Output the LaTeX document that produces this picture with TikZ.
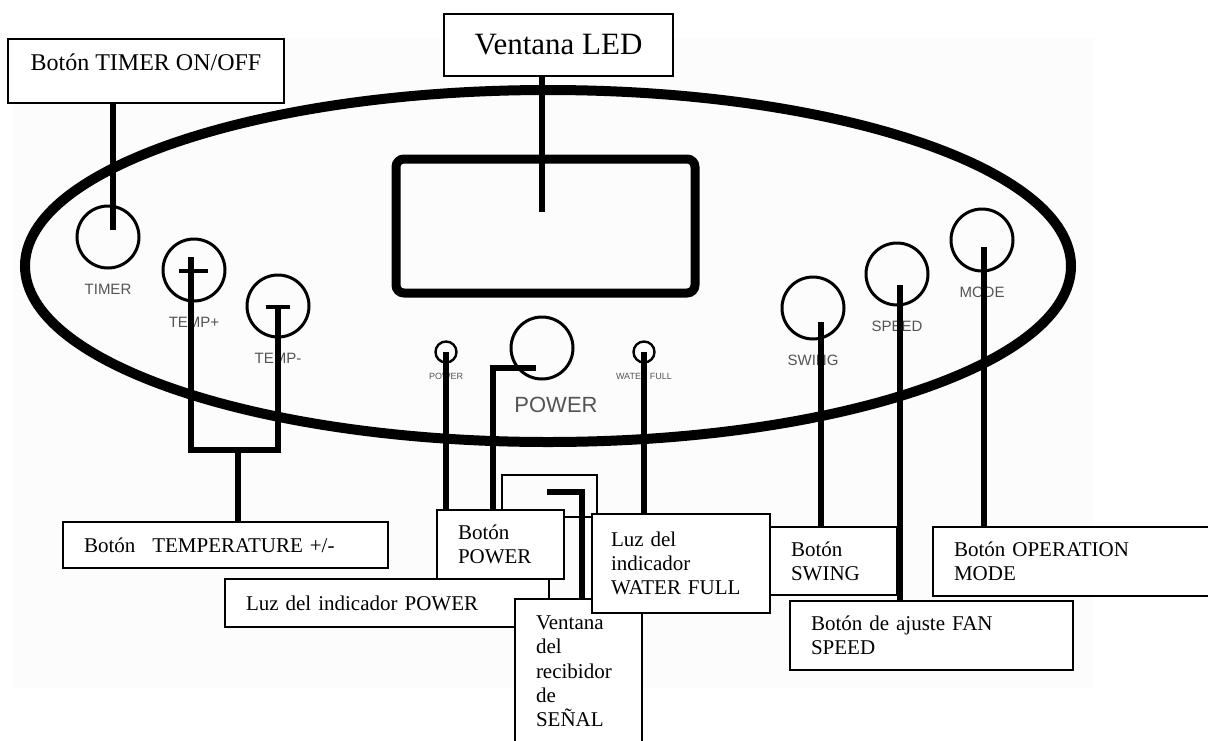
\documentclass[tikz,border=0pt]{standalone}
\usepackage{fontspec}
\setmainfont{Liberation Serif}
\newfontfamily\panelfont{Liberation Sans}
\usepackage{xcolor}
\usepackage{tikz}
\usetikzlibrary{positioning,shapes.geometric,backgrounds}
\definecolor{tagGray}{gray}{0.33}
\definecolor{paper}{gray}{0.988}

\begin{document}
\begin{tikzpicture}[
  x=1pt, y=-1pt,
  node distance=16pt,
  note/.style={draw,fill=white,line width=2.4pt,anchor=north west,align=left,
    inner xsep=21pt,inner ysep=0pt,outer sep=0pt,font=\fontsize{21}{24.2}\selectfont},
  btn/.style={draw,circle,line width=3pt,minimum size=62pt,inner sep=0pt,outer sep=0pt},
  led/.style={draw,circle,line width=2.4pt,minimum size=21pt,inner sep=0pt,outer sep=0pt},
  tag/.style={text=tagGray,inner sep=0pt,font=\panelfont\fontsize{15}{15}\selectfont},
  ledtag/.style={text=tagGray,inner sep=0pt,font=\panelfont\fontsize{9}{9}\selectfont},
  lead/.style={line width=5.5pt}
]
\useasboundingbox (0,0) rectangle (1208,740);

% callout boxes
\node[note,anchor=center,align=center,inner xsep=0pt,minimum width=276pt,minimum height=64pt,
  text height=17pt,text depth=19pt,font=\fontsize{24}{28}\selectfont] (lTimer) at (146,71) {Botón TIMER ON/OFF};
\node[note,anchor=center,align=center,inner xsep=0pt,minimum width=229pt,minimum height=62pt,
  font=\fontsize{31}{36}\selectfont] (lLed) at (558.5,45) {Ventana LED};
\node[note,text width=283pt,minimum height=46pt] (lTemp) at (63,522) {Botón\hspace{17pt}TEMPERATURE +/-};
\node[note,text width=282pt,minimum height=48pt] (lPwrLed) at (225,579) {Luz del indicador POWER};
\node[note,text width=85pt,minimum height=69pt] (lPwrBtn) at (437,510) {Botón\\POWER};
\node[note,text width=85pt,inner ysep=17pt] (lRecv) at (515,599) {Ventana\\del\\recibidor\\de\\SEÑAL};
\node[note,text width=140pt,inner xsep=19pt,minimum height=99pt] (lWater) at (592,514) {Luz del\\indicador\\WATER FULL};
\node[note,text width=85pt,minimum height=68pt] (lSwing) at (770,527) {Botón\\SWING};
\node[note,text width=241pt,minimum height=69pt] (lFan) at (790,601) {Botón de ajuste FAN\\SPEED};
\node[note,text width=248pt,minimum height=69pt] (lMode) at (933,527) {Botón OPERATION\\MODE};

\begin{scope}[on background layer]
% control panel
\fill[paper] (13,38) rectangle (1094,688);
\node[draw,ellipse,line width=10pt,minimum width=1046pt,minimum height=352pt,inner sep=0pt] (panel) at (548,266) {};
\node[draw,rounded corners=8pt,line width=9pt,minimum width=299pt,minimum height=134pt,inner sep=0pt] (win) at (545.5,226) {};
\node[btn] (bTimer) at (108,237) {};
\node[btn] (bTplus) at (194,270) {};
\node[btn] (bTminus) at (278,306) {};
\node[btn] (bPwr) at (542,348) {};
\node[btn] (bSwing) at (813,308) {};
\node[btn] (bSpeed) at (897,274) {};
\node[btn] (bMode) at (982,240) {};
\node[led] (dPwr) at (446,352) {};
\node[led] (dWater) at (644,352) {};
\node[draw,line width=2.4pt,minimum width=95pt,minimum height=42pt,inner sep=0pt] (rWin) at (549.5,496) {};
\draw[line width=4pt] (179,271) -- (208,271);
\draw[line width=4pt] (266,307) -- (290,307);

% panel captions
\node[tag,below=of bTimer] (tgTimer) {TIMER};
\node[tag,below=of bTplus] (tgTplus) {TEMP+};
\node[tag,below=of bTminus] (tgTminus) {TEMP-};
\node[tag,below=of bSwing] (tgSwing) {SWING};
\node[tag,below=of bSpeed] (tgSpeed) {SPEED};
\node[tag,below=of bMode] (tgMode) {MODE};
\node[ledtag,below=11pt of dPwr] (tgPwr) {POWER};
\node[ledtag,below=11pt of dWater] (tgWater) {WATER FULL};
\node[tag,font=\panelfont\fontsize{22}{22}\selectfont] (tgPower) at (556,405) {POWER};

% leader lines
\coordinate (tTimer) at (113,230);
\coordinate (tLed) at (542,212);
\coordinate (tTplus) at (191,257);
\coordinate (tTminus) at (278,307);
\coordinate (jTemp) at (238,450);
\coordinate (tPwr) at (536,368);
\coordinate (kPwr) at (493,368);
\coordinate (tRecv) at (547,492);
\coordinate (kRecv) at (582,492);
\coordinate (tSwing) at (821,322);
\coordinate (tSpeed) at (900,285);
\coordinate (tMode) at (984,247);
\draw[lead] (tTimer) -- (tTimer |- lTimer.south);
\draw[lead] (tLed) -- (tLed |- lLed.south);
\draw[lead] (tTplus) |- (jTemp) -| (tTminus);
\draw[lead] (jTemp) -- (jTemp |- lTemp.north);
\draw[lead] (dPwr.center) -- (dPwr.center |- lPwrLed.north);
\draw[lead] (tPwr) -- (kPwr) -- (kPwr |- lPwrBtn.north);
\draw[lead] (dWater.center) -- (dWater.center |- lWater.north);
\draw[lead] (tRecv) -- (kRecv) -- (kRecv |- lRecv.north);
\draw[lead] (tSwing) -- (tSwing |- lSwing.north);
\draw[lead] (tSpeed) -- (tSpeed |- lFan.north);
\draw[lead] (tMode) -- (tMode |- lMode.north);
\end{scope}
\end{tikzpicture}
\end{document}
